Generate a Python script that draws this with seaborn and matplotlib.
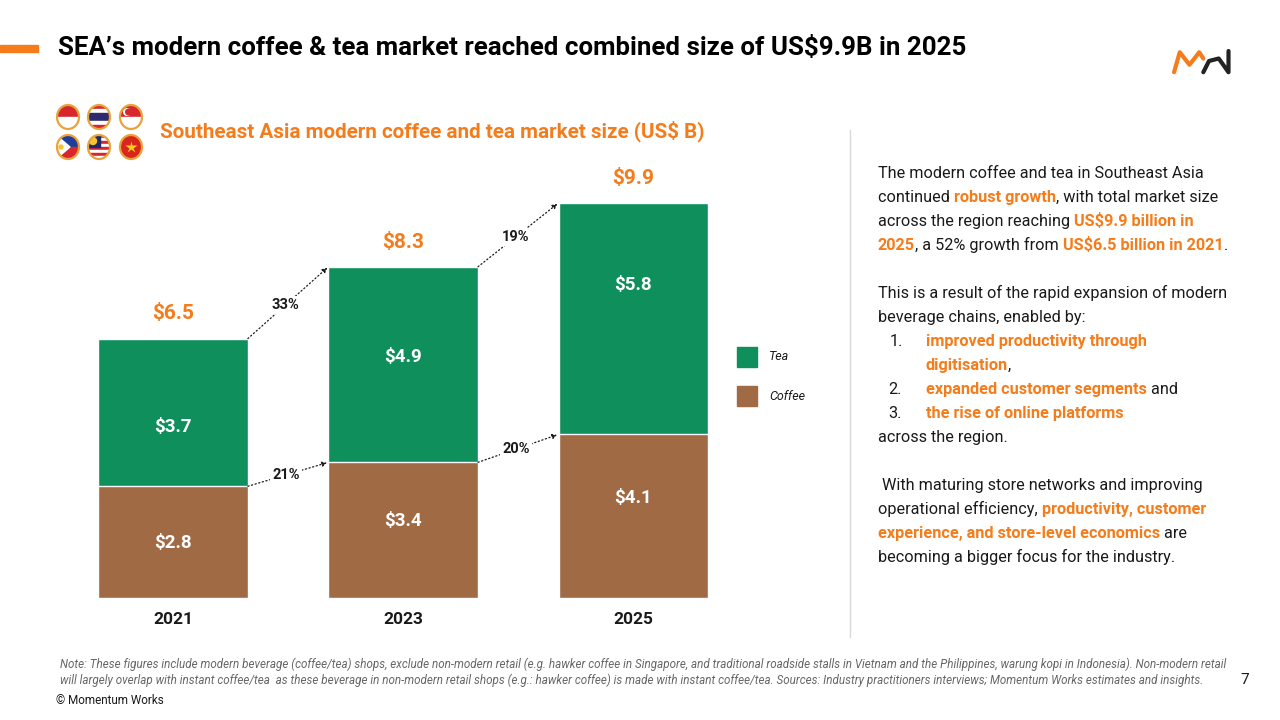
import matplotlib
matplotlib.use("Agg")
import matplotlib.pyplot as plt
import matplotlib.patches as mpatches
import pandas as pd
import seaborn as sns

# data
years = ["2021", "2023", "2025"]
coffee = [2.8, 3.4, 4.1]
tea = [3.7, 4.9, 5.8]
totals = [6.5, 8.3, 9.9]
tea_growth = ["33%", "19%"]
coffee_growth = ["21%", "20%"]

# where the value labels sit inside each segment (fraction of segment height)
tea_label_frac = [0.40, 0.54, 0.645]
coffee_label_frac = [0.49, 0.57, 0.61]

GREEN = "#0E8F5C"
BROWN = "#A06A45"
ORANGE = "#F57C1A"
DARK = "#1A1A1A"

sns.set_theme(style="white")
plt.rcParams["font.family"] = ["Roboto", "DejaVu Sans"]

W, H = 1280, 720
fig = plt.figure(figsize=(12.8, 7.2), dpi=100)


def fx(px):
    return px / W


def fy(py):
    return 1 - py / H


# ---- chart axes (pixel layout) ----
left, right, top, bottom = 58, 730, 159, 598
ax = fig.add_axes([fx(left), fy(bottom), fx(right - left), (bottom - top) / H])
df = pd.DataFrame({"year": years, "coffee": coffee, "tea": tea, "total": totals})
sns.barplot(data=df, x="year", y="total", color=GREEN, width=0.65, saturation=1, ax=ax)
sns.barplot(data=df, x="year", y="coffee", color=BROWN, width=0.65, saturation=1, ax=ax)
ax.set_ylim(0, 11)
ax.set_xlim(-0.5, 2.42)
ax.set_xlabel("")
ax.set_ylabel("")
ax.set_yticks([])
ax.tick_params(axis="x", length=0, pad=10, labelsize=12.5)
for lab in ax.get_xticklabels():
    lab.set_fontweight("bold")
    lab.set_color(DARK)
sns.despine(ax=ax, left=True, bottom=True)

hw = 0.325
for i in range(len(years)):
    ax.text(i, coffee[i] * coffee_label_frac[i], f"${coffee[i]:.1f}", ha="center", va="center",
            color="white", fontsize=13.5, fontweight="bold")
    ax.text(i, coffee[i] + tea[i] * tea_label_frac[i], f"${tea[i]:.1f}", ha="center", va="center",
            color="white", fontsize=13.5, fontweight="bold")
    ax.text(i, totals[i] + 0.62, f"${totals[i]:.1f}", ha="center", va="center",
            color=ORANGE, fontsize=15, fontweight="bold")

arrow = dict(arrowstyle="-|>", linestyle=(0, (1, 2)), color=DARK, lw=0.9,
             mutation_scale=7, shrinkA=0, shrinkB=1)
lbl_box = dict(facecolor="white", edgecolor="none", pad=1.5)
for i in range(len(years) - 1):
    ax.annotate("", xy=(i + 1 - hw, totals[i + 1]), xytext=(i + hw, totals[i]), arrowprops=arrow)
    ax.annotate("", xy=(i + 1 - hw, coffee[i + 1]), xytext=(i + hw, coffee[i]), arrowprops=arrow)
    ax.text(i + 0.49, (totals[i] + totals[i + 1]) / 2 - 0.06, tea_growth[i], ha="center",
            va="center", fontsize=10.5, fontweight="bold", color=DARK, bbox=lbl_box)
    ax.text(i + 0.49, (coffee[i] + coffee[i + 1]) / 2 - 0.02, coffee_growth[i], ha="center",
            va="center", fontsize=10.5, fontweight="bold", color=DARK, bbox=lbl_box)

# legend
for ypx, lab, col in [(357, "Tea", GREEN), (396, "Coffee", BROWN)]:
    fig.patches.append(mpatches.Rectangle((fx(737), fy(ypx + 10)), fx(20), 20 / H,
                                          transform=fig.transFigure, color=col))
    fig.text(fx(769), fy(ypx), lab, fontsize=9, style="italic", color=DARK, va="center")

# ---- header ----
fig.patches.append(mpatches.Rectangle((0, fy(52)), fx(38), 7 / H, transform=fig.transFigure,
                                      color=ORANGE))
fig.text(fx(58), fy(48), "SEA\u2019s modern coffee & tea market reached combined size of US$9.9B in 2025",
         fontsize=18.6, fontweight="bold", color="black", va="center")
fig.text(fx(160), fy(131), "Southeast Asia modern coffee and tea market size (US$ B)",
         fontsize=14.9, fontweight="bold", color=ORANGE, va="center")

# logo
lg = fig.add_axes([fx(1170), fy(76), fx(65), 30 / H])
lg.plot([0.5, 1.2, 2.4, 3.6, 4.1], [0.1, 1.7, 0.7, 1.7, 1.2], color=ORANGE, lw=3)
lg.plot([4.1, 4.8, 6.0, 7.2, 7.2], [0.1, 1.0, 1.2, 0.1, 1.8], color="#222222", lw=3)
lg.set_xlim(0, 8)
lg.set_ylim(-0.2, 2.2)
lg.axis("off")

# flags
fl = fig.add_axes([fx(52), fy(163), fx(96), 66 / H])
fl.set_xlim(52, 148)
fl.set_ylim(163, 97)
fl.set_aspect("equal")
fl.axis("off")


def flag(cx, cy, stripes, extra=None):
    r = 11.5
    clip = mpatches.Ellipse((cx, cy), 2 * r - 1, 2 * r + 1, facecolor="none", edgecolor="none")
    fl.add_patch(clip)
    y0 = cy - r
    total = sum(h for h, _ in stripes)
    for h, c in stripes:
        hh = h / total * 2 * r
        p = mpatches.Rectangle((cx - r, y0), 2 * r, hh, color=c, zorder=3)
        fl.add_patch(p)
        p.set_clip_path(clip)
        y0 += hh
    for p in (extra or []):
        fl.add_patch(p)
        p.set_clip_path(clip)
    fl.add_patch(mpatches.Ellipse((cx, cy), 2 * r - 1, 2 * r + 1, facecolor="none",
                                  edgecolor="#E8A33C", lw=1.6, zorder=6))


RED = "#D7262C"
BLUE = "#2D2A6E"
flag(68, 117, [(1, RED), (1, "white")])
flag(99, 117, [(1, RED), (1, "white"), (2, BLUE), (1, "white"), (1, RED)])
flag(131, 117, [(1, RED), (1, "white")],
     [mpatches.Circle((127, 112), 4, facecolor="white", edgecolor="none", zorder=4),
      mpatches.Circle((128.5, 112), 3.5, facecolor=RED, edgecolor="none", zorder=4)])
flag(68, 147, [(1, "#1E3E9A"), (1, RED)],
     [mpatches.Polygon([(56, 135), (56, 159), (70, 147)], color="white", zorder=4),
      mpatches.Circle((61, 147), 2, color="#F6C431", zorder=5)])
flag(99, 147, [(1, RED), (1, "white")] * 4,
     [mpatches.Rectangle((87, 135), 13, 12, color="#1B2A6B", zorder=4),
      mpatches.Circle((93, 141), 3.5, color="#F6C431", zorder=5)])
flag(131, 147, [(1, "#D8261D")])
fl.plot([131], [147], marker="*", ms=9, color="#F6D31A", mec="none", zorder=7)

# separator
fig.add_artist(plt.Line2D([fx(850), fx(850)], [fy(130), fy(637)], color="#D8D8D8", lw=1,
                          transform=fig.transFigure))

# ---- right text ----
fig.canvas.draw()
renderer = fig.canvas.get_renderer()


def rich(xpx, ypx, parts, size=11.7):
    x = xpx
    for s, hl in parts:
        t = fig.text(fx(x), fy(ypx + 5), s, fontsize=size, va="baseline",
                     color=ORANGE if hl else DARK, fontweight="bold" if hl else "normal")
        x += t.get_window_extent(renderer).width


lines = [
    (878, 173, [("The modern coffee and tea in Southeast Asia", 0)]),
    (878, 197, [("continued ", 0), ("robust growth", 1), (", with total market size", 0)]),
    (878, 221, [("across the region reaching ", 0), ("US$9.9 billion in", 1)]),
    (878, 245, [("2025", 1), (", a 52% growth from ", 0), ("US$6.5 billion in 2021", 1), (".", 0)]),
    (878, 293, [("This is a result of the rapid expansion of modern", 0)]),
    (878, 317, [("beverage chains, enabled by:", 0)]),
    (890, 341, [("1.", 0)]),
    (926, 341, [("improved productivity through", 1)]),
    (926, 365, [("digitisation", 1), (",", 0)]),
    (888, 389, [("2.", 0)]),
    (926, 389, [("expanded customer segments", 1), (" and", 0)]),
    (888, 413, [("3.", 0)]),
    (926, 413, [("the rise of online platforms", 1)]),
    (878, 437, [("across the region.", 0)]),
    (878, 485, [(" With maturing store networks and improving", 0)]),
    (878, 509, [("operational efficiency, ", 0), ("productivity, customer", 1)]),
    (878, 533, [("experience, and store-level economics", 1), (" are", 0)]),
    (878, 557, [("becoming a bigger focus for the industry.", 0)]),
]
for xpx, ypx, parts in lines:
    rich(xpx, ypx, parts)

# ---- footer ----
note1 = ("Note: These figures include modern beverage (coffee/tea) shops, exclude non-modern retail (e.g. hawker coffee in "
         "Singapore, and traditional roadside stalls in Vietnam and the Philippines, warung kopi in Indonesia). Non-modern retail")
note2 = ("will largely overlap with instant coffee/tea  as these beverage in non-modern retail shops (e.g.: hawker coffee) is "
         "made with instant coffee/tea. Sources: Industry practitioners interviews; Momentum Works estimates and insights.")
fig.text(fx(60), fy(664), note1, fontsize=8.4, style="italic", color="#666666", va="center")
fig.text(fx(60), fy(680), note2, fontsize=8.4, style="italic", color="#666666", va="center")
fig.text(fx(1245), fy(680), "7", fontsize=11, color=DARK, va="center", ha="center")
fig.text(fx(56), fy(701), "\u00a9 Momentum Works", fontsize=8.5, color=DARK, va="center")

fig.savefig("out.png", dpi=100, facecolor="white")
